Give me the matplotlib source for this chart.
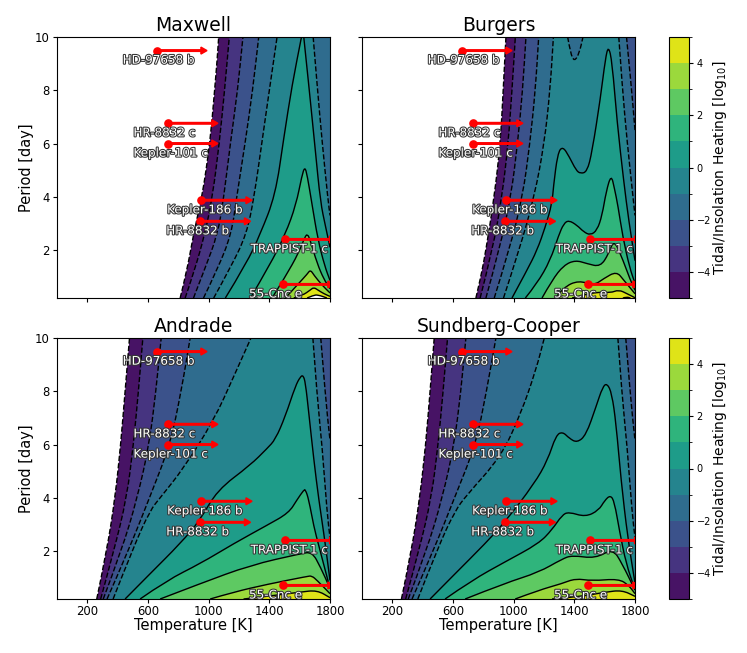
import matplotlib
matplotlib.use("Agg")
import matplotlib.pyplot as plt
import matplotlib.patheffects as pe
from matplotlib.cm import ScalarMappable
from matplotlib.colors import BoundaryNorm, ListedColormap
from matplotlib.patches import PathPatch
from matplotlib.path import Path

# planets: temperature, period, arrow tip temperature
planet_names = ["HD-97658 b", "HR-8832 c", "Kepler-101 c", "Kepler-186 b", "HR-8832 b", "TRAPPIST-1 c", "55-Cnc e"]
planet_temp = [658, 729, 729, 951, 945, 1502, 1491]
planet_tip = [989, 1061, 1061, 1286, 1276, 1837, 1826]
planet_period = [9.49, 6.76, 6.0, 3.87, 3.08, 2.4, 0.71]

levels = list(range(-5, 6))

# contour lines, level: pieces of (temperature, period)
maxwell = {
    -5: [[(812, .2), (856, 1.2), (900, 2.6), (955, 4), (983, 5), (1006, 6), (1024, 7), (1039, 8), (1054, 9), (1066, 10)]],
    -4: [[(845, .2), (905, 1.2), (975, 2.6), (1025, 4), (1070, 6), (1105, 8), (1136, 10)]],
    -3: [[(900, .2), (975, 1.3), (1060, 2.6), (1100, 4), (1143, 6), (1191, 8), (1226, 10)]],
    -2: [[(966, .2), (1060, 1.3), (1150, 2.6), (1185, 4), (1240, 6), (1290, 8), (1330, 10)]],
    -1: [[(1033, .2), (1150, 1.4), (1250, 2.6), (1300, 4), (1350, 6), (1400, 8), (1451, 10)],
         [(1689, 10), (1715, 8.2), (1748, 6.07), (1786, 3.93), (1800, 3.3)]],
    0: [[(1110, .2), (1250, 1.5), (1340, 2.6), (1440, 4.06), (1495, 6.2), (1550, 8.2), (1612, 10)],
        [(1627, 10), (1660, 8.2), (1704, 5.7), (1737, 3.8), (1770, 2.9), (1800, 2.1)]],
    1: [[(1275, .2), (1400, 1.4), (1506, 2.6), (1576, 3.7), (1615, 4.8), (1634, 5.13), (1650, 4.8), (1682, 3.7), (1720, 2.4),
         (1765, 1.4), (1800, .86)]],
    2: [[(1418, .2), (1506, 1.0), (1594, 1.9), (1635, 2.5), (1651, 2.6), (1668, 2.4), (1715, 1.5), (1760, .9), (1800, .55)]],
    3: [[(1506, .2), (1594, .75), (1650, 1.1), (1671, 1.26), (1695, 1.05), (1748, .68), (1800, .39)]],
    4: [[(1561, .2), (1620, .3), (1670, .5), (1693, .6), (1720, .5), (1760, .36), (1800, .26)]],
    5: [[(1649, .2), (1690, .3), (1720, .32), (1780, .2)]],
}

burgers = {
    -5: [[(751, .2), (784, 1), (817, 2), (872, 4), (912, 6), (931, 8), (949, 10)]],
    -4: [[(779, .2), (861, 2), (923, 4), (964, 6), (989, 8), (1011, 10)]],
    -3: [[(817, .2), (905, 2), (982, 4), (1026, 6), (1059, 8), (1081, 10)]],
    -2: [[(872, .2), (971, 2), (1059, 4), (1107, 6), (1143, 8), (1165, 10)],
         [(1744, 10), (1775, 8.2), (1797, 6.7), (1800, 6.5)]],
    -1: [[(933, .2), (1037, 2), (1136, 4), (1202, 6), (1240, 8), (1262, 10)],
         [(1356, 10), (1374, 9.4), (1400, 9.07), (1433, 9.4), (1457, 10)],
         [(1693, 10), (1715, 8.2), (1748, 6.07), (1788, 3.93), (1800, 3.3)]],
    0: [[(989, .2), (1088, 1.24), (1154, 1.99), (1209, 2.87), (1253, 3.75), (1262, 4.37), (1290, 5.63), (1323, 5.9), (1367, 5.5),
         (1411, 5), (1440, 4.87), (1484, 4.94), (1517, 5.69), (1572, 7.7), (1605, 9.2), (1625, 9.67), (1649, 9.07), (1682, 6.8),
         (1726, 4.56), (1759, 3.1), (1800, 1.6)]],
    1: [[(1077, .2), (1154, .74), (1242, 1.62), (1297, 2.56), (1330, 2.99), (1363, 3.12), (1418, 2.93), (1462, 2.68), (1506, 2.56),
         (1550, 2.74), (1583, 3.3), (1610, 4.2), (1643, 4.84), (1665, 4.3), (1687, 3.68), (1720, 2.48), (1764, 1.35), (1800, .75)]],
    2: [[(1187, .2), (1253, .87), (1330, 1.43), (1407, 1.62), (1484, 1.49), (1572, 1.37), (1627, 1.87), (1660, 2.37), (1704, 1.87),
         (1770, .86), (1800, .49)]],
    3: [[(1275, .2), (1330, .61), (1429, .86), (1528, .67), (1594, .93), (1678, 1.2), (1726, .87), (1800, .36)]],
    4: [[(1385, .2), (1528, .43), (1638, .39), (1693, .51), (1748, .36), (1800, .21)]],
    5: [[(1720, .2), (1745, .24), (1770, .2)]],
}

andrade = {
    -5: [[(262, .2), (328, 2), (383, 4), (420, 6), (449, 8), (478, 10)]],
    -4: [[(288, .2), (375, 2), (460, 4), (504, 6), (537, 8), (566, 10)]],
    -3: [[(305, .2), (425, 2), (530, 4), (608, 6), (652, 8), (687, 10)]],
    -2: [[(330, .2), (470, 2), (610, 4), (746, 6), (819, 8), (878, 10)],
         [(1739, 10), (1770, 7.8), (1797, 6.3), (1800, 6.2)]],
    -1: [[(370, .2), (504, 2.15), (614, 3.53), (680, 4), (834, 5.1), (1033, 6.9), (1165, 8.55), (1279, 10)],
         [(1687, 10), (1715, 7.8), (1748, 5.94), (1781, 3.43), (1800, 2.5)]],
    0: [[(449, .2), (614, 1.15), (812, 2.28), (944, 3.16), (1055, 4.28), (1275, 5.23), (1385, 5.85), (1440, 6.19), (1506, 7.07),
         (1572, 8.2), (1605, 8.55), (1623, 8.6), (1638, 8.32), (1660, 7.19), (1693, 5.44), (1726, 3.93), (1759, 2.68), (1800, .9)]],
    1: [[(548, .2), (724, .9), (945, 1.53), (1165, 2.28), (1385, 2.97), (1528, 3.43), (1583, 3.93), (1627, 4.29), (1638, 4.31),
         (1660, 3.93), (1693, 2.93), (1726, 2.2), (1800, .6)]],
    2: [[(680, .2), (945, .78), (1275, 1.47), (1605, 1.9), (1682, 1.97), (1737, 1.4), (1800, .6)]],
    3: [[(1010, .2), (1165, .46), (1385, .75), (1650, 1.05), (1680, 1.07), (1715, .9), (1800, .4)]],
    4: [[(1230, .2), (1385, .3), (1605, .46), (1715, .53), (1800, .25)]],
}

sundberg = {
    -5: [[(260, .2), (326, 2), (381, 4), (420, 6), (449, 8), (476, 10)]],
    -4: [[(288, .2), (375, 2), (458, 4), (502, 6), (535, 8), (564, 10)]],
    -3: [[(305, .2), (425, 2), (530, 4), (608, 6), (652, 8), (685, 10)]],
    -2: [[(330, .2), (470, 2), (610, 4), (750, 6), (821, 8), (883, 10)],
         [(1739, 10), (1770, 7.8), (1797, 6.3), (1800, 6.2)]],
    -1: [[(368, .2), (498, 2.1), (612, 3.5), (690, 4.1), (916, 5.54), (1048, 7.17), (1147, 8.8), (1202, 10)],
         [(1687, 10), (1715, 7.8), (1748, 5.94), (1781, 3.43), (1800, 2.5)]],
    0: [[(449, .2), (614, 1.15), (812, 2.28), (944, 3.1), (1136, 4.53), (1224, 5.41), (1279, 6.35), (1323, 6.48), (1367, 6.23),
         (1418, 6.07), (1477, 6.35), (1543, 7.42), (1587, 8.17), (1616, 8.3), (1647, 7.92), (1675, 6.79), (1708, 4.66), (1752, 2.5), (1800, .8)]],
    1: [[(548, .2), (724, .9), (945, 1.6), (1165, 2.28), (1253, 2.8), (1319, 3.35), (1363, 3.47), (1473, 3.28), (1561, 3.53),
         (1600, 3.9), (1638, 4.1), (1664, 3.85), (1697, 2.78), (1741, 1.53), (1800, .55)]],
    2: [[(680, .2), (945, .8), (1165, 1.2), (1319, 1.7), (1385, 1.84), (1539, 1.72), (1653, 2.09), (1715, 1.53), (1800, .53)]],
    3: [[(1010, .2), (1165, .53), (1319, .78), (1407, .97), (1517, .88), (1693, .96), (1759, .71), (1800, .4)]],
    4: [[(1253, .2), (1429, .28), (1605, .46), (1715, .53), (1800, .3)]],
}

panels = [("Maxwell", maxwell), ("Burgers", burgers), ("Andrade", andrade), ("Sundberg-Cooper", sundberg)]
positions = [(57, 37), (362, 37), (57, 338), (362, 338)]

W, H = 747, 653
fig = plt.figure(figsize=(W / 100, H / 100), dpi=100)
viridis = plt.get_cmap("viridis")
band_colors = [viridis((i + 0.5) / 10) for i in range(10)]
cmap = ListedColormap(band_colors)
norm = BoundaryNorm(levels, 10)


def smooth(piece):
    # quadratic bezier through the midpoints so the read points don't look like corners
    verts = [piece[0]]
    codes = [Path.LINETO]
    for k in range(1, len(piece) - 1):
        mid = ((piece[k][0] + piece[k + 1][0]) / 2, (piece[k][1] + piece[k + 1][1]) / 2)
        verts += [piece[k], mid]
        codes += [Path.CURVE3, Path.CURVE3]
    verts.append(piece[-1])
    codes.append(Path.LINETO)
    return verts, codes


def draw_panel(ax, contours):
    for lev in sorted(contours):
        verts, codes = [], []
        for piece in contours[lev]:
            v, c = smooth(piece)
            verts += v
            codes += c
        last = contours[lev][-1][-1]
        first = contours[lev][0][0]
        verts += [(1800, last[1]), (1800, 0.2), (first[0], 0.2), first]
        codes += [Path.LINETO, Path.LINETO, Path.LINETO, Path.CLOSEPOLY]
        codes[0] = Path.MOVETO
        color = band_colors[lev + 5] if lev < 5 else "white"
        ax.add_patch(PathPatch(Path(verts, codes), facecolor=color, edgecolor="none", zorder=1 + (lev + 5) * 0.01))
    for lev, pieces in contours.items():
        for piece in pieces:
            v, c = smooth(piece)
            c[0] = Path.MOVETO
            ax.add_patch(PathPatch(Path(v, c), facecolor="none", edgecolor="k", lw=1.0,
                                   ls="--" if lev < 0 else "-", zorder=2))


for i, (name, contours) in enumerate(panels):
    x0, y0 = positions[i]
    ax = fig.add_axes([x0 / W, 1 - (y0 + 261) / H, 273 / W, 261 / H])
    draw_panel(ax, contours)
    for j in range(len(planet_names)):
        ax.arrow(planet_temp[j], planet_period[j], planet_tip[j] - planet_temp[j], 0, width=0.06, head_width=0.26,
                 head_length=40, length_includes_head=True, color="red", zorder=4)
        ax.plot(planet_temp[j], planet_period[j], "o", color="red", ms=5.2, zorder=5)
        ax.text(planet_temp[j] - 225, planet_period[j] - 0.36, planet_names[j], color="white", fontsize=8.6, va="center",
                ha="left", zorder=6, clip_on=False,
                path_effects=[pe.withStroke(linewidth=1.5, foreground="#333333")])
    ax.set_xlim(0, 1800)
    ax.set_ylim(0.2, 10)
    ax.set_xticks([200, 600, 1000, 1400, 1800])
    ax.set_yticks([2, 4, 6, 8, 10])
    ax.tick_params(labelsize=8.4, length=3, pad=2.5)
    ax.tick_params(axis="x", pad=1.5)
    ax.set_title(name, fontsize=13.5, pad=4)
    if i >= 2:
        ax.set_xlabel("Temperature [K]", fontsize=10.5, labelpad=0)
    else:
        ax.set_xticklabels([])
    if i % 2 == 0:
        ax.set_ylabel("Period [day]", fontsize=10.5, labelpad=0)
    else:
        ax.set_yticklabels([])

for y0 in (37, 338):
    cax = fig.add_axes([669 / W, 1 - (y0 + 261) / H, 20 / W, 261 / H])
    cb = fig.colorbar(ScalarMappable(norm=norm, cmap=cmap), cax=cax, ticks=[-4, -2, 0, 2, 4], spacing="proportional")
    cb.ax.tick_params(labelsize=7, length=3, pad=2.5)
    cb.set_label("Tidal/Insolation Heating [log$_{10}$]", fontsize=10, labelpad=0)

fig.savefig("out.png", dpi=100)
